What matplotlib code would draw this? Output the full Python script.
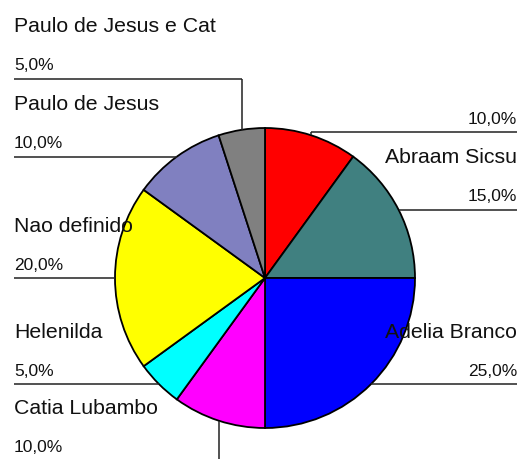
import numpy as np
import matplotlib
matplotlib.use('Agg')
import matplotlib.pyplot as plt

# --- data ---
names = ['', 'Abraam Sicsu', 'Adelia Branco', 'Catia Lubambo', 'Helenilda',
         'Nao definido', 'Paulo de Jesus', 'Paulo de Jesus e Cat']
values = [10.0, 15.0, 25.0, 10.0, 5.0, 20.0, 10.0, 5.0]
pct_labels = ['10,0%', '15,0%', '25,0%', '10,0%', '5,0%', '20,0%', '10,0%', '5,0%']
colors = ['#FF0000', '#408080', '#0000FF', '#FF00FF', '#00FFFF',
          '#FFFF00', '#8080C0', '#808080']

# --- layout (pixel space) ---
W, H = 520, 459
cx, cy, r = 265, 278, 150
# label line y for slices that don't use their own mid point (index -> y)
line_override = {0: 132, 3: 461, 7: 79}

plt.rcParams['font.family'] = ['Liberation Sans', 'DejaVu Sans']
fig = plt.figure(figsize=(W / 100, H / 100), dpi=100)
ax = fig.add_axes([0, 0, 1, 1])
ax.axis('off')

# y axis is flipped below, so start at -90 (screen top) and CCW in data = clockwise on screen
wedges, _ = ax.pie(values, colors=colors, startangle=-90, counterclock=True,
                   center=(cx, cy), radius=r,
                   wedgeprops=dict(edgecolor='black', linewidth=1.3))
ax.set_xlim(0, W)
ax.set_ylim(H, 0)
ax.set_aspect('auto')

total = sum(values)
cum = 0.0
line_kw = dict(color='#222222', lw=1.1, solid_capstyle='butt')
for i, v in enumerate(values):
    frac_mid = (cum + v / 2) / total
    cum += v
    ang = 2 * np.pi * frac_mid
    px = cx + r * np.sin(ang)
    py = cy - r * np.cos(ang)
    right = px > cx
    ly = line_override.get(i, py)

    if i == 3:
        # magenta: straight down off the bottom
        ax.plot([px, px], [py, ly], **line_kw)
        ax.plot([14, px], [ly, ly], **line_kw)
    elif right:
        ax.plot([px, 517], [ly, ly], **line_kw)
        if ly != py:
            ax.plot([px, px], [ly, py], **line_kw)
    else:
        ax.plot([14, px], [ly, ly], **line_kw)
        if ly != py:
            ax.plot([px, px], [ly, py], **line_kw)

    tx = 517 if right else 14
    ha = 'right' if right else 'left'
    ax.text(tx, ly - 52, names[i], ha=ha, va='center', fontsize=15.3, color='#111111')
    ax.text(tx, ly - 13, pct_labels[i], ha=ha, va='center', fontsize=12.5, color='#111111')

fig.savefig('out.png', dpi=100, facecolor='white')
